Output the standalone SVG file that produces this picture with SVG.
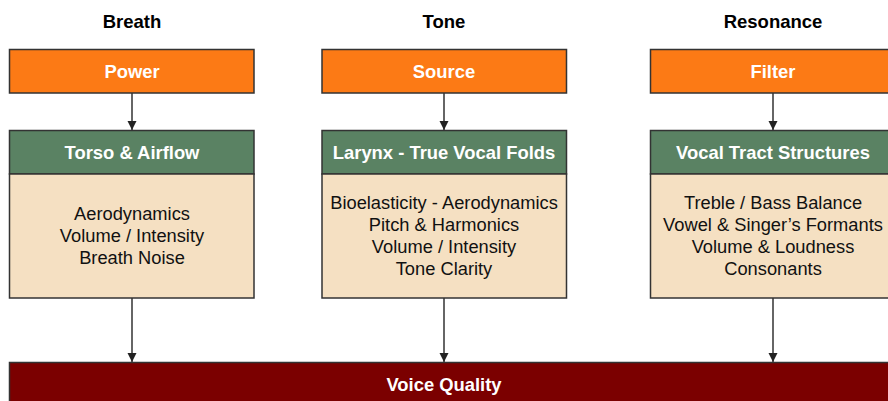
<svg xmlns="http://www.w3.org/2000/svg" width="888" height="401" viewBox="0 0 888 401">
<defs>
<marker id="arr" markerWidth="10" markerHeight="10" refX="9" refY="5" orient="auto" markerUnits="userSpaceOnUse" viewBox="0 0 10 10">
<path d="M0,0.5 L9,5 L0,9.5 Z" fill="#222"/>
</marker>
</defs>
<style>
text{font-family:"Liberation Sans",Arial,sans-serif;text-anchor:middle}
.h{font-size:18.5px;font-weight:bold;fill:#000}
.w{font-size:18.4px;font-weight:bold;fill:#fff}
.b{font-size:18.3px;fill:#111}
.or{fill:#FC7A15;stroke:#333;stroke-width:1.5}
.gr{fill:#5A8263;stroke:#333;stroke-width:1.5}
.be{fill:#F5E0C2;stroke:#333;stroke-width:1.5}
.vq{fill:#7B0000;stroke:#333;stroke-width:1.5}
.c{stroke:#333;stroke-width:1.5;fill:none;marker-end:url(#arr)}
</style>
<rect width="888" height="401" fill="#fff"/>
<g id="headers">
<text class="h" x="132" y="28">Breath</text>
<text class="h" x="444" y="28">Tone</text>
<text class="h" x="773" y="28">Resonance</text>
</g>
<g id="connectors">
<line class="c" x1="132" y1="93" x2="132" y2="130"/>
<line class="c" x1="444" y1="93" x2="444" y2="130"/>
<line class="c" x1="773" y1="93" x2="773" y2="130"/>
<line class="c" x1="132" y1="298" x2="132" y2="362"/>
<line class="c" x1="444" y1="298" x2="444" y2="362"/>
<line class="c" x1="773" y1="298" x2="773" y2="362"/>
</g>
<g id="power"><rect class="or" x="9.5" y="49.5" width="244.5" height="43.5"/><text class="w" x="132" y="77.5">Power</text></g>
<g id="source"><rect class="or" x="322" y="49.5" width="244.5" height="43.5"/><text class="w" x="444" y="77.5">Source</text></g>
<g id="filter"><rect class="or" x="650.5" y="49.5" width="244.5" height="43.5"/><text class="w" x="773" y="77.5">Filter</text></g>
<g id="torso">
<rect class="gr" x="9.5" y="130.5" width="244.5" height="43.5"/><text class="w" x="132" y="158.5">Torso &amp; Airflow</text>
<rect class="be" x="9.5" y="174" width="244.5" height="124"/>
<text class="b" x="132" y="219.5">Aerodynamics</text>
<text class="b" x="132" y="241.5">Volume / Intensity</text>
<text class="b" x="132" y="263.5">Breath Noise</text>
</g>
<g id="larynx">
<rect class="gr" x="322" y="130.5" width="244.5" height="43.5"/><text class="w" x="444" y="158.5">Larynx - True Vocal Folds</text>
<rect class="be" x="322" y="174" width="244.5" height="124"/>
<text class="b" x="444" y="208.5">Bioelasticity - Aerodynamics</text>
<text class="b" x="444" y="230.5">Pitch &amp; Harmonics</text>
<text class="b" x="444" y="252.5">Volume / Intensity</text>
<text class="b" x="444" y="274.5">Tone Clarity</text>
</g>
<g id="vocaltract">
<rect class="gr" x="650.5" y="130.5" width="244.5" height="43.5"/><text class="w" x="773" y="158.5">Vocal Tract Structures</text>
<rect class="be" x="650.5" y="174" width="244.5" height="124"/>
<text class="b" x="773" y="208.5">Treble / Bass Balance</text>
<text class="b" x="773" y="230.5">Vowel &amp; Singer’s Formants</text>
<text class="b" x="773" y="252.5">Volume &amp; Loudness</text>
<text class="b" x="773" y="274.5">Consonants</text>
</g>
<g id="voicequality"><rect class="vq" x="9.5" y="362.5" width="890" height="45"/><text class="w" x="444" y="390.5">Voice Quality</text></g>
</svg>
